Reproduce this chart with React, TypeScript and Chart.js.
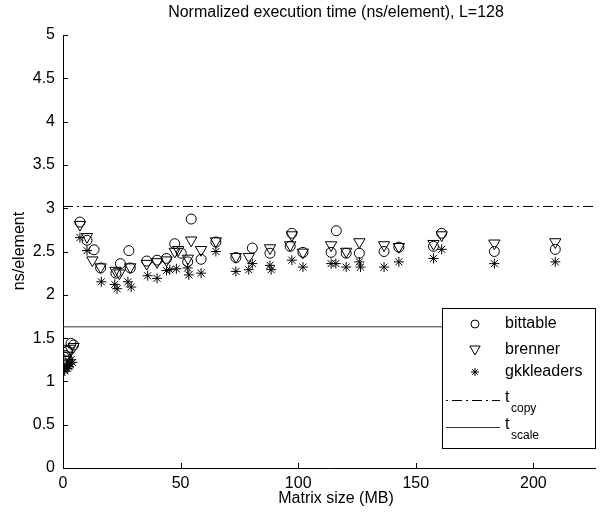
import React, { useEffect, useRef } from 'react';
import { Chart, registerables } from 'chart.js';

Chart.register(...registerables);

const TITLE = 'Normalized execution time (ns/element), L=128';
const X_LABEL = 'Matrix size (MB)';
const Y_LABEL = 'ns/element';

const X_MIN = 0;
const X_MAX = 226.4;
const X_STEP = 50;
const Y_MIN = 0;
const Y_MAX = 5;
const Y_STEP = 0.5;

const T_COPY = 3.02;
const T_SCALE = 1.63;

const bittableX = [0.5, 1, 2, 3.4, 4.5, 7.2, 10.2, 13.2, 16, 22.5, 24.4, 28, 28.6, 35.6, 40, 44, 47.5, 50.3, 53, 54.5, 58.7, 65, 73.5, 80.5, 88, 96.6, 97.3, 102, 114, 116.2, 120.4, 126, 136.5, 142.8, 157.5, 161, 183.4, 209.3];
const bittableY = [1.28, 1.30, 1.35, 1.44, 1.42, 2.84, 2.63, 2.52, 2.31, 2.25, 2.36, 2.51, 2.31, 2.39, 2.40, 2.42, 2.59, 2.48, 2.38, 2.875, 2.41, 2.61, 2.43, 2.54, 2.48, 2.56, 2.71, 2.49, 2.49, 2.74, 2.48, 2.48, 2.50, 2.55, 2.56, 2.71, 2.50, 2.525];

const brennerX = [0.5, 1, 2, 3, 4.5, 7.2, 10.2, 12.5, 16, 22.3, 24, 28.6, 35.6, 40, 44, 47.5, 49, 53.1, 54.5, 58.7, 65, 73.5, 79, 88, 96.6, 97.3, 102, 114, 120.4, 126, 136.5, 142.8, 157.5, 161, 183.4, 209.3];
const brennerY = [1.22, 1.25, 1.30, 1.38, 1.40, 2.81, 2.67, 2.40, 2.32, 2.28, 2.25, 2.32, 2.36, 2.38, 2.40, 2.50, 2.52, 2.42, 2.63, 2.52, 2.62, 2.44, 2.44, 2.54, 2.575, 2.69, 2.49, 2.575, 2.50, 2.61, 2.575, 2.555, 2.59, 2.69, 2.595, 2.61];

const gkkleadersX = [0.5, 0.8, 1.5, 2, 2.5, 3, 3.5, 4, 7.2, 10.2, 16.3, 22, 23, 27.6, 29, 36, 40, 44, 45.4, 48.2, 53, 53.5, 58.7, 65, 73.5, 79, 80.5, 88, 88.5, 97.3, 102, 114, 116, 120.4, 126, 126.5, 136.5, 142.8, 157.5, 161, 183.4, 209.3];
const gkkleadersY = [1.14, 1.12, 1.18, 1.15, 1.17, 1.20, 1.25, 1.22, 2.66, 2.51, 2.15, 2.12, 2.07, 2.15, 2.09, 2.22, 2.19, 2.28, 2.29, 2.30, 2.31, 2.23, 2.25, 2.50, 2.27, 2.29, 2.36, 2.34, 2.29, 2.40, 2.32, 2.36, 2.36, 2.32, 2.38, 2.32, 2.32, 2.38, 2.42, 2.525, 2.36, 2.38];

const LEGEND_LABELS = ['bittable', 'brenner', 'gkkleaders'];
const LINE_LABELS = [['t', 'copy'], ['t', 'scale']];

const FONT = "'Liberation Sans', Arial, Helvetica, sans-serif";

const pts = (xs: number[], ys: number[]) => xs.map((x, i) => ({ x, y: ys[i] }));

function drawCircle(ctx: CanvasRenderingContext2D, x: number, y: number, r: number) {
  ctx.beginPath();
  ctx.arc(x, y, r, 0, Math.PI * 2);
  ctx.stroke();
}
function drawTriDown(ctx: CanvasRenderingContext2D, x: number, y: number, r: number) {
  ctx.beginPath();
  ctx.moveTo(x - r * 0.866, y - r * 0.5);
  ctx.lineTo(x + r * 0.866, y - r * 0.5);
  ctx.lineTo(x, y + r);
  ctx.closePath();
  ctx.stroke();
}
function drawStar(ctx: CanvasRenderingContext2D, x: number, y: number, r: number) {
  ctx.beginPath();
  for (let k = 0; k < 4; k++) {
    const a = (k * Math.PI) / 4;
    ctx.moveTo(x - Math.cos(a) * r, y - Math.sin(a) * r);
    ctx.lineTo(x + Math.cos(a) * r, y + Math.sin(a) * r);
  }
  ctx.stroke();
}

const decorPlugin = {
  id: 'decor',
  afterDraw(chart: any) {
    const ctx: CanvasRenderingContext2D = chart.ctx;
    const xs = chart.scales.x;
    const ys = chart.scales.y;
    const area = chart.chartArea;
    ctx.save();
    ctx.strokeStyle = '#000';
    ctx.lineWidth = 1;
    // inward ticks
    ctx.beginPath();
    ys.ticks.forEach((t: any) => {
      const py = Math.round(ys.getPixelForValue(t.value)) + 0.5;
      ctx.moveTo(area.left, py);
      ctx.lineTo(area.left + 5, py);
    });
    xs.ticks.forEach((t: any) => {
      const px = Math.round(xs.getPixelForValue(t.value)) + 0.5;
      ctx.moveTo(px, area.bottom);
      ctx.lineTo(px, area.bottom - 5);
    });
    ctx.stroke();

    // title & axis labels
    ctx.fillStyle = '#000';
    ctx.textAlign = 'center';
    ctx.textBaseline = 'middle';
    ctx.font = `16px ${FONT}`;
    ctx.fillText(TITLE, 336, 13);
    ctx.fillText(X_LABEL, 336, 499);
    ctx.save();
    ctx.translate(20, 251);
    ctx.rotate(-Math.PI / 2);
    ctx.fillText(Y_LABEL, 0, 0);
    ctx.restore();

    // legend
    const bx = 442.5, by = 308.5, bw = 153, bh = 140;
    ctx.fillStyle = '#fff';
    ctx.fillRect(bx, by, bw, bh);
    ctx.strokeRect(bx, by, bw, bh);
    ctx.fillStyle = '#000';
    ctx.textAlign = 'left';
    ctx.font = `16px ${FONT}`;
    const mx = 475, tx = 505;
    const rows = [324, 350, 372];
    drawCircle(ctx, mx, rows[0], 4);
    drawTriDown(ctx, mx, rows[1] - 1, 6);
    drawStar(ctx, mx, rows[2], 4);
    LEGEND_LABELS.forEach((l, i) => ctx.fillText(l, tx, rows[i]));
    // line entries
    const ly = [400.5, 427.5];
    ctx.setLineDash([2, 4, 10, 4]);
    ctx.beginPath();
    ctx.moveTo(446, ly[0]);
    ctx.lineTo(500, ly[0]);
    ctx.stroke();
    ctx.setLineDash([]);
    ctx.strokeStyle = '#333';
    ctx.beginPath();
    ctx.moveTo(446, ly[1]);
    ctx.lineTo(500, ly[1]);
    ctx.stroke();
    LINE_LABELS.forEach((pair, i) => {
      ctx.font = `16px ${FONT}`;
      ctx.fillText(pair[0], tx, ly[i] - 3);
      ctx.font = `12px ${FONT}`;
      ctx.fillText(pair[1], tx + 6, ly[i] + 8);
    });
    ctx.restore();
  },
};

export default function App() {
  const ref = useRef<HTMLCanvasElement | null>(null);
  useEffect(() => {
    if (!ref.current) return;
    Chart.defaults.font.family = FONT;
    const markerBase = {
      type: 'scatter' as const,
      showLine: false,
      borderColor: '#000',
      backgroundColor: 'rgba(0,0,0,0)',
      pointBorderColor: '#000',
      pointBackgroundColor: 'rgba(0,0,0,0)',
      pointBorderWidth: 1,
    };
    const chart = new Chart(ref.current, {
      type: 'scatter',
      data: {
        datasets: [
          { ...markerBase, label: LEGEND_LABELS[0], data: pts(bittableX, bittableY), pointStyle: 'circle', pointRadius: 5 },
          { ...markerBase, label: LEGEND_LABELS[1], data: pts(brennerX, brennerY), pointStyle: 'triangle', pointRotation: 180, pointRadius: 6.5 },
          { ...markerBase, label: LEGEND_LABELS[2], data: pts(gkkleadersX, gkkleadersY), pointStyle: 'star', pointRadius: 5 },
          {
            type: 'line' as const, label: 't_copy',
            data: [{ x: X_MIN, y: T_COPY }, { x: X_MAX, y: T_COPY }],
            borderColor: '#000', borderWidth: 1, borderDash: [10, 4, 2, 4], pointRadius: 0, fill: false,
          },
          {
            type: 'line' as const, label: 't_scale',
            data: [{ x: X_MIN, y: T_SCALE }, { x: X_MAX, y: T_SCALE }],
            borderColor: '#333', borderWidth: 1, pointRadius: 0, fill: false,
          },
        ],
      } as any,
      options: {
        animation: false,
        responsive: false,
        devicePixelRatio: 1,
        layout: { padding: { top: 35, right: 0, left: 0, bottom: 0 } },
        plugins: { legend: { display: false }, title: { display: false }, tooltip: { enabled: false } },
        scales: {
          x: {
            type: 'linear', min: X_MIN, max: X_MAX,
            ticks: { stepSize: X_STEP, includeBounds: false, padding: 6, color: '#000', font: { size: 16 } },
            grid: { display: false, drawTicks: false },
            border: { display: true, color: '#000', width: 1 },
            afterFit: (s: any) => { s.height = 48; },
          },
          y: {
            type: 'linear', min: Y_MIN, max: Y_MAX,
            ticks: { stepSize: Y_STEP, padding: 8, color: '#000', font: { size: 16 }, callback: (v: any) => String(Number(v)) },
            grid: { display: false, drawTicks: false },
            border: { display: true, color: '#000', width: 1 },
            afterFit: (s: any) => { s.width = 63; },
          },
        },
      } as any,
      plugins: [decorPlugin],
    });
    return () => chart.destroy();
  }, []);
  return (
    <div style={{ position: 'absolute', left: 0, top: 0, width: 603, height: 516, background: '#fff' }}>
      <canvas ref={ref} width={603} height={516} style={{ display: 'block' }} />
    </div>
  );
}
